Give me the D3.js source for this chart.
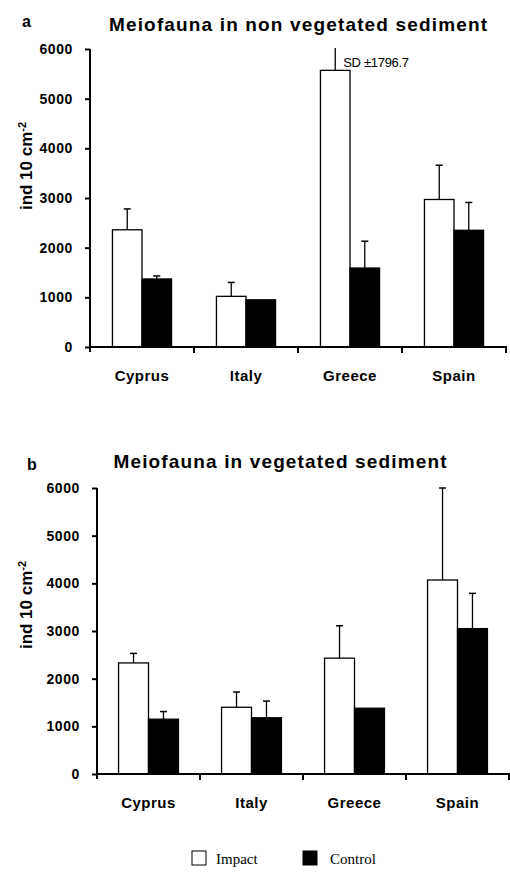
<!DOCTYPE html>
<html>
<head>
<meta charset="utf-8">
<script src="https://cdn.jsdelivr.net/npm/d3@7"></script>
<style>
  html, body { margin: 0; padding: 0; background: #fff; }
  svg { display: block; }
</style>
</head>
<body>
<svg id="chart" width="510" height="872"></svg>
<script>
// ---------- data ----------
const categories = ["Cyprus", "Italy", "Greece", "Spain"];
const seriesNames = ["Impact", "Control"];
const yTicks = [0, 1000, 2000, 3000, 4000, 5000, 6000];

// a) non vegetated sediment
const nonVegImpact   = [2360, 1020, 5570, 2970];
const nonVegImpactSD = [420, 280, 1796.7, 690];
const nonVegControl   = [1370, 950, 1590, 2350];
const nonVegControlSD = [60, null, 540, 560];

// b) vegetated sediment
const vegImpact   = [2330, 1400, 2430, 4070];
const vegImpactSD = [200, 320, 680, 1930];
const vegControl   = [1150, 1180, 1380, 3050];
const vegControlSD = [160, 350, null, 740];

const panels = [
  { letter: "a", title: "Meiofauna in non vegetated sediment",
    impact: nonVegImpact, impactSD: nonVegImpactSD,
    control: nonVegControl, controlSD: nonVegControlSD,
    left: 90, right: 506, top: 49, bottom: 347,
    titleX: 298, titleY: 31, titleLen: 378, letterX: 22, letterY: 27, pad: 0.76 },
  { letter: "b", title: "Meiofauna in vegetated sediment",
    impact: vegImpact, impactSD: vegImpactSD,
    control: vegControl, controlSD: vegControlSD,
    left: 97, right: 509, top: 488, bottom: 774,
    titleX: 280, titleY: 468, titleLen: 333, letterX: 27, letterY: 470, pad: 0.72 }
];

const svg = d3.select("#chart");
const sans = "'Liberation Sans', Arial, sans-serif";

panels.forEach(p => {
  const g = svg.append("g");
  const x = d3.scaleBand().domain(categories).range([p.left, p.right]).padding(0);
  const xs = d3.scaleBand().domain(seriesNames).range([0, x.bandwidth()])
    .paddingInner(0).paddingOuter(p.pad);
  const y = d3.scaleLinear().domain([0, 6000]).range([p.bottom, p.top]);

  // panel letter + title
  g.append("text").attr("x", p.letterX).attr("y", p.letterY)
    .attr("font-family", sans).attr("font-weight", "bold").attr("font-size", 16)
    .text(p.letter);
  g.append("text").attr("x", p.titleX).attr("y", p.titleY)
    .attr("text-anchor", "middle")
    .attr("font-family", sans).attr("font-weight", "bold").attr("font-size", 19)
    .attr("textLength", p.titleLen).attr("lengthAdjust", "spacing")
    .text(p.title);

  // bars
  const rows = categories.map((c, i) => [
    { cat: c, s: "Impact", v: p.impact[i], sd: p.impactSD[i] },
    { cat: c, s: "Control", v: p.control[i], sd: p.controlSD[i] }
  ]).flat();

  g.selectAll("rect.bar").data(rows).enter().append("rect")
    .attr("class", "bar")
    .attr("x", d => x(d.cat) + xs(d.s))
    .attr("width", xs.bandwidth())
    .attr("y", d => y(d.v))
    .attr("height", d => y(0) - y(d.v))
    .attr("fill", d => d.s === "Impact" ? "#fff" : "#000")
    .attr("stroke", "#000").attr("stroke-width", 1.3);

  // error bars
  const err = rows.filter(d => d.sd != null);
  err.forEach(d => {
    const cx = x(d.cat) + xs(d.s) + xs.bandwidth() / 2;
    const hi = d.v + d.sd;
    const clipped = hi > 6020;
    const yTop = clipped ? y(6020) : y(hi);
    g.append("line").attr("x1", cx).attr("x2", cx)
      .attr("y1", y(d.v)).attr("y2", yTop)
      .attr("stroke", "#000").attr("stroke-width", 1.3);
    if (!clipped) {
      g.append("line").attr("x1", cx - 3.5).attr("x2", cx + 3.5)
        .attr("y1", yTop).attr("y2", yTop)
        .attr("stroke", "#000").attr("stroke-width", 1.5);
    } else {
      g.append("text").attr("x", cx + 8).attr("y", y(6000) + 18)
        .attr("font-family", sans).attr("font-size", 13)
        .attr("letter-spacing", -0.3)
        .text("SD \u00B1" + d.sd);
    }
  });

  // y axis
  const yAxis = d3.axisLeft(y).tickValues(yTicks).tickFormat(d3.format("d"))
    .tickSize(5).tickSizeOuter(0).tickPadding(12);
  const ya = g.append("g").attr("transform", `translate(${p.left},0)`).call(yAxis);
  ya.select(".domain").attr("stroke-width", 2).attr("d", `M0,${p.top}V${p.bottom + 5}`);
  ya.selectAll(".tick line").attr("stroke-width", 2);
  ya.selectAll(".tick text").attr("font-family", sans).attr("font-weight", "bold")
    .attr("font-size", 14).attr("letter-spacing", 0.6).attr("fill", "#000");

  // x axis line + ticks between categories
  g.append("line").attr("x1", p.left).attr("x2", p.right + 1)
    .attr("y1", y(0)).attr("y2", y(0)).attr("stroke", "#000").attr("stroke-width", 2);
  g.selectAll("line.xt").data(categories).enter().append("line")
    .attr("class", "xt")
    .attr("x1", d => x(d) + x.bandwidth()).attr("x2", d => x(d) + x.bandwidth())
    .attr("y1", y(0)).attr("y2", y(0) + 6)
    .attr("stroke", "#000").attr("stroke-width", 2);
  g.selectAll("text.xl").data(categories).enter().append("text")
    .attr("class", "xl")
    .attr("x", d => x(d) + x.bandwidth() / 2)
    .attr("y", y(0) + 34)
    .attr("text-anchor", "middle")
    .attr("font-family", sans).attr("font-weight", "bold").attr("font-size", 15)
    .attr("letter-spacing", 0.5)
    .text(d => d);

  // y title
  const yt = g.append("text")
    .attr("transform", `translate(32,${p.top + 117}) rotate(-90)`)
    .attr("text-anchor", "middle")
    .attr("font-family", sans).attr("font-weight", "bold").attr("font-size", 17);
  yt.append("tspan").text("ind 10 cm");
  yt.append("tspan").attr("baseline-shift", "super").attr("font-size", 11).text("-2");
});

// legend
const legend = svg.append("g");
const legendItems = [
  { name: "Impact", fill: "#fff", bx: 192, tx: 216 },
  { name: "Control", fill: "#000", bx: 303, tx: 330 }
];
legendItems.forEach(l => {
  legend.append("rect").attr("x", l.bx).attr("y", 851).attr("width", 14).attr("height", 14)
    .attr("fill", l.fill).attr("stroke", "#000").attr("stroke-width", 1);
  legend.append("text").attr("x", l.tx).attr("y", 864)
    .attr("font-family", "'Liberation Serif', 'Times New Roman', serif")
    .attr("font-size", 15).text(l.name);
});
</script>
</body>
</html>
